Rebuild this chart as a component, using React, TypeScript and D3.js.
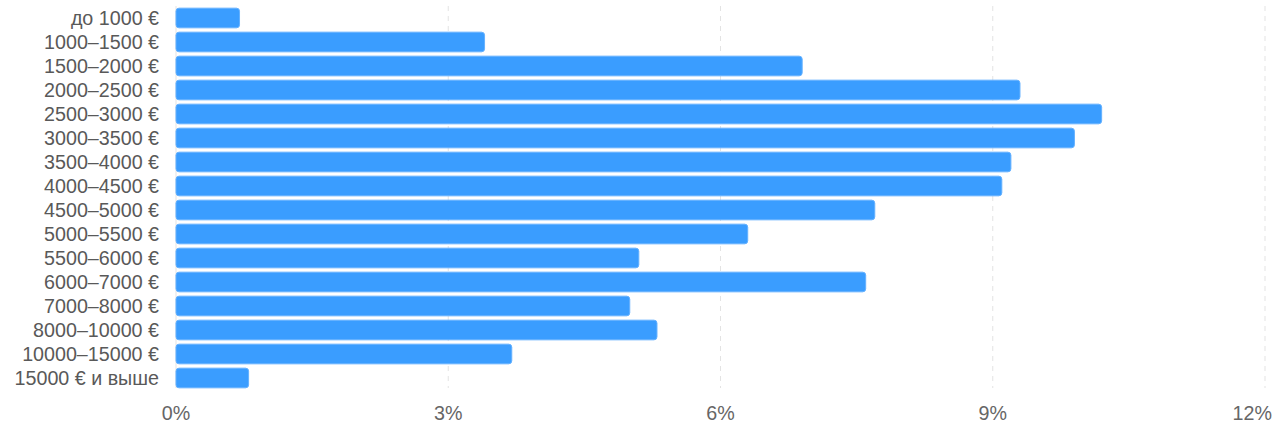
import { useEffect, useRef } from 'react';
import { select, scaleBand, scaleLinear } from 'd3';

const categories = [
  'до 1000 €',
  '1000–1500 €',
  '1500–2000 €',
  '2000–2500 €',
  '2500–3000 €',
  '3000–3500 €',
  '3500–4000 €',
  '4000–4500 €',
  '4500–5000 €',
  '5000–5500 €',
  '5500–6000 €',
  '6000–7000 €',
  '7000–8000 €',
  '8000–10000 €',
  '10000–15000 €',
  '15000 € и выше',
];

const shares = [0.7, 3.4, 6.9, 9.3, 10.2, 9.9, 9.2, 9.1, 7.7, 6.3, 5.1, 7.6, 5.0, 5.3, 3.7, 0.8];

const tickValues = [0, 3, 6, 9, 12];

export default function App() {
  const svgRef = useRef<SVGSVGElement | null>(null);

  useEffect(() => {
    if (!svgRef.current) return;
    const svg = select(svgRef.current);
    svg.selectAll('*').remove();

    const width = 1280;
    const height = 442;
    const margin = { top: 6, right: 15, bottom: 52, left: 176 };
    const font = '"Liberation Sans", Arial, sans-serif';

    const x = scaleLinear()
      .domain([0, 12])
      .range([margin.left, width - margin.right]);

    const y = scaleBand<string>()
      .domain(categories)
      .range([margin.top, height - margin.bottom])
      .paddingInner(0.18)
      .paddingOuter(0.09);

    svg.attr('viewBox', `0 0 ${width} ${height}`);

    // grid
    svg
      .append('g')
      .selectAll('line')
      .data(tickValues)
      .join('line')
      .attr('x1', (d) => x(d))
      .attr('x2', (d) => x(d))
      .attr('y1', margin.top)
      .attr('y2', height - margin.bottom - 2)
      .attr('stroke', '#e3e3e3')
      .attr('stroke-width', 1)
      .attr('stroke-dasharray', (d) => (d === 0 ? null : '5,5'));

    // bars
    svg
      .append('g')
      .selectAll('rect')
      .data(shares)
      .join('rect')
      .attr('x', x(0))
      .attr('y', (_, i) => y(categories[i]) ?? 0)
      .attr('width', (d) => x(d) - x(0))
      .attr('height', y.bandwidth())
      .attr('rx', 3)
      .attr('fill', '#3a9dff')
      .attr('stroke', '#64b1ff')
      .attr('stroke-width', 1);

    // category labels
    svg
      .append('g')
      .selectAll('text')
      .data(categories)
      .join('text')
      .attr('x', margin.left - 17)
      .attr('y', (d) => (y(d) ?? 0) + y.bandwidth() / 2)
      .attr('dy', '0.35em')
      .attr('text-anchor', 'end')
      .attr('font-family', font)
      .attr('font-size', 19.7)
      .attr('fill', '#595959')
      .text((d) => d);

    // x tick labels, last one kept inside the canvas
    svg
      .append('g')
      .selectAll('text')
      .data(tickValues)
      .join('text')
      .attr('x', (d) => x(d))
      .attr('y', 420)
      .attr('text-anchor', 'middle')
      .attr('font-family', font)
      .attr('font-size', 19.7)
      .attr('fill', '#666666')
      .text((d) => `${d}%`)
      .each(function (d) {
        const w = (this as SVGTextElement).getComputedTextLength();
        const cx = Math.min(x(d), width - 8 - w / 2);
        select(this).attr('x', cx);
      });
  }, []);

  return (
    <svg
      ref={svgRef}
      width={1280}
      height={442}
      style={{ position: 'absolute', left: 0, top: 0, background: '#fff' }}
    />
  );
}
